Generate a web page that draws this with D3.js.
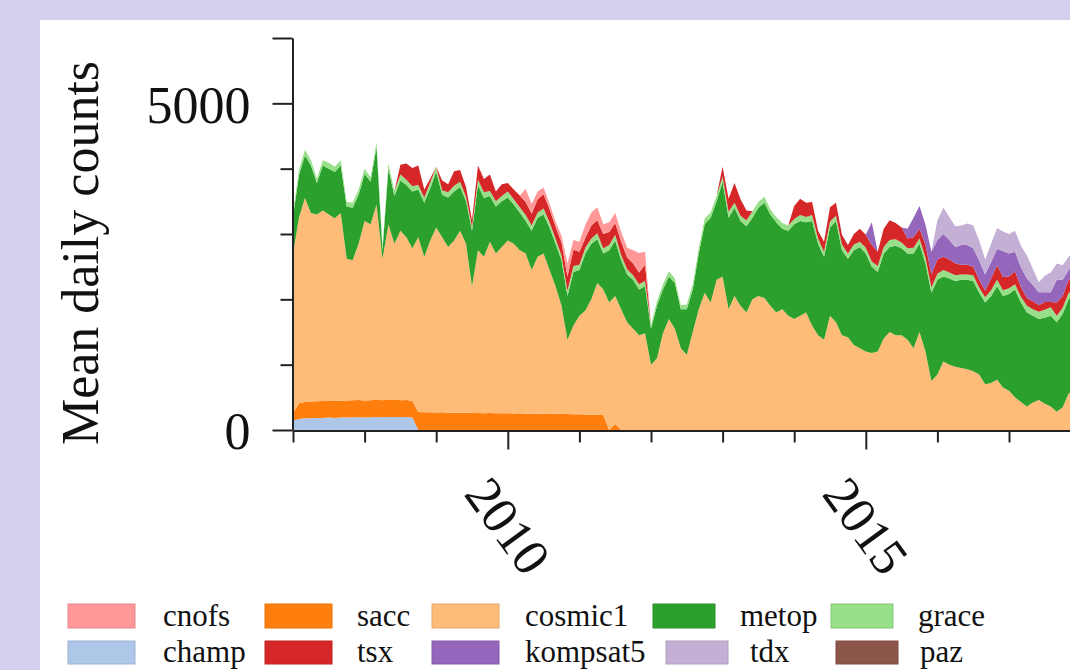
<!DOCTYPE html>
<html><head><meta charset="utf-8">
<script src="https://cdn.jsdelivr.net/npm/d3@7"></script>
<style>
html,body{margin:0;padding:0;background:#d4d0ed;}
svg{display:block;}
text{font-family:"Liberation Serif","Times New Roman",serif;fill:#111;}
</style></head><body>
<svg id="c" width="1070" height="670"></svg>
<script>
// ---------------- DATA (monthly means, Jan 2007 .. Dec 2017) ----------------
const startYear = 2007;
const seriesNames = ["champ","sacc","cosmic1","metop","grace","tsx","cnofs","kompsat5","tdx","paz"];
const seriesColors = ["#aec7e8","#ff7f0e","#ffbb78","#2ca02c","#98df8a","#d62728","#ff9896","#9467bd","#c5b0d5","#8c564b"];
const yTickValues = [0,1000,2000,3000,4000,5000,6000];
const yTickLabels = ["0","","","","","5000",""];
const xTickYears = [2007,2008,2009,2010,2011,2012,2013,2014,2015,2016,2017,2018];
const xLabelYears = [2010,2015];
const yAxisTitle = "Mean daily counts";

const champ = [
140,170,180,180,185,185,190,185,190,190,195,195,
190,195,200,195,200,200,195,200,190,0,0,0,
0,0,0,0,0,0,0,0,0,0,0,0,
0,0,0,0,0,0,0,0,0,0,0,0,
0,0,0,0,0,0,0,0,0,0,0,0,
0,0,0,0,0,0,0,0,0,0,0,0,
0,0,0,0,0,0,0,0,0,0,0,0,
0,0,0,0,0,0,0,0,0,0,0,0,
0,0,0,0,0,0,0,0,0,0,0,0,
0,0,0,0,0,0,0,0,0,0,0,0,
0,0,0,0,0,0,0,0,0,0,0,0];
const sacc = [
120,240,250,255,255,260,255,260,258,262,260,265,
262,260,265,262,268,265,262,260,255,275,272,270,
268,270,265,268,262,265,260,262,258,260,255,258,
255,252,255,250,252,248,250,245,248,244,246,240,
242,238,235,232,228,0,90,0,0,0,0,0,
0,0,0,0,0,0,0,0,0,0,0,0,
0,0,0,0,0,0,0,0,0,0,0,0,
0,0,0,0,0,0,0,0,0,0,0,0,
0,0,0,0,0,0,0,0,0,0,0,0,
0,0,0,0,0,0,0,0,0,0,0,0,
0,0,0,0,0,0,0,0,0,0,0,0];
const cosmic1 = [
2440,2840,3120,2885,2860,2915,2855,2795,2872,2168,2145,2390,
2748,2695,2985,2163,2682,2385,2593,2490,2335,2675,2378,2630,
2832,2680,2535,2632,2788,2585,1940,2488,2392,2620,2445,2542,
2645,2598,2495,2450,2198,2402,2450,2205,1952,1656,1134,1360,
1508,1592,1765,2018,1922,1950,1960,1850,1650,1550,1450,1480,
1000,1100,1480,1700,1550,1250,1150,1500,1850,2100,1950,2300,
2350,1850,2050,1900,1800,2000,2050,2020,1900,1800,1850,1750,
1700,1750,1800,1600,1450,1380,1750,1650,1450,1420,1300,1250,
1200,1180,1200,1400,1500,1450,1450,1380,1250,1500,1200,750,
850,1050,1000,970,950,930,900,850,700,720,770,650,
600,500,430,360,420,460,400,360,280,350,560,600];
const metop = [
560,650,650,730,480,690,700,710,730,800,800,750,
720,650,880,130,850,730,770,800,870,730,830,800,
850,650,760,750,670,650,850,1000,900,700,720,700,
660,600,580,500,600,600,600,650,650,700,670,820,
700,870,850,670,550,800,850,750,730,750,700,720,
550,800,670,650,700,600,700,650,850,1050,1300,1200,
1450,1400,1350,1300,1320,1250,1350,1460,1400,1380,1230,1300,
1450,1450,1380,1600,1400,1270,1350,1550,1300,1200,1450,1550,
1500,1320,1220,1300,1300,1370,1330,1320,1450,1350,1350,1350,
1450,1300,1320,1310,1350,1370,1380,1250,1250,1330,1430,1400,
1480,1650,1520,1440,1330,1240,1320,1390,1370,1430,1440,1450];
const grace = [
60,80,90,80,70,80,90,80,80,70,80,80,
80,70,80,60,80,80,90,80,80,70,80,90,
80,70,80,90,80,70,60,80,90,80,80,80,
90,80,80,90,80,80,90,80,80,70,80,90,
80,90,80,90,80,80,90,80,80,70,80,80,
60,70,80,80,70,60,70,80,80,90,80,90,
80,90,80,80,90,100,90,90,80,80,90,80,
80,90,80,90,80,80,90,80,90,80,90,80,
90,80,90,100,110,100,90,80,90,80,90,80,
90,100,90,90,80,80,90,80,80,90,100,90,
90,80,90,100,100,110,120,130,100,90,100,90];
const tsx = [
0,0,0,0,0,0,0,0,0,0,0,0,
0,0,0,0,0,0,150,250,280,300,120,60,
0,150,120,220,180,150,100,220,200,250,150,180,
130,150,180,200,180,200,220,200,180,200,220,250,
200,150,200,200,220,200,180,200,180,180,180,250,
0,0,0,0,0,0,0,0,0,0,0,0,
150,200,300,250,150,0,0,0,0,0,0,0,
200,250,220,200,120,150,220,200,150,130,160,200,
200,250,220,280,300,250,230,150,160,150,200,200,
220,200,200,180,150,150,130,120,100,180,220,200,
180,200,150,120,120,100,120,80,200,180,200,200];
const cnofs = [
0,0,0,0,0,0,0,0,0,0,0,0,
0,0,0,0,0,0,0,0,0,0,0,0,
0,0,0,0,0,0,0,0,0,0,0,0,
0,0,0,200,150,120,100,80,80,100,200,150,
150,200,200,200,150,150,150,150,150,200,300,200,
0,0,0,0,0,0,0,0,0,0,0,0,
0,0,0,0,0,0,0,0,0,0,0,0,
0,0,0,0,0,0,0,0,0,0,0,0,
0,0,0,0,0,0,0,0,0,0,0,0,
0,0,0,0,0,0,0,0,0,0,0,0,
0,0,0,0,0,0,0,0,0,0,0,0];
const kompsat5 = [
0,0,0,0,0,0,0,0,0,0,0,0,
0,0,0,0,0,0,0,0,0,0,0,0,
0,0,0,0,0,0,0,0,0,0,0,0,
0,0,0,0,0,0,0,0,0,0,0,0,
0,0,0,0,0,0,0,0,0,0,0,0,
0,0,0,0,0,0,0,0,0,0,0,0,
0,0,0,0,0,0,0,0,0,0,0,0,
0,0,0,0,0,0,0,0,0,0,0,0,
0,350,0,0,0,0,0,150,300,350,300,350,
300,350,300,250,300,300,280,300,250,250,250,400,
350,300,300,300,250,200,150,150,350,250,150,200];
const tdx = [
0,0,0,0,0,0,0,0,0,0,0,0,
0,0,0,0,0,0,0,0,0,0,0,0,
0,0,0,0,0,0,0,0,0,0,0,0,
0,0,0,0,0,0,0,0,0,0,0,0,
0,0,0,0,0,0,0,0,0,0,0,0,
0,0,0,0,0,0,0,0,0,0,0,0,
0,0,0,0,0,0,0,0,0,0,0,0,
0,0,0,0,0,0,0,0,0,0,0,0,
0,0,0,0,0,0,0,0,0,0,0,0,
300,400,350,320,300,330,350,300,230,280,320,300,
300,320,330,350,250,150,250,300,250,220,200,220];
const paz = new Array(132).fill(0);

// ---------------- BUILD TABLE ----------------
const seriesData = {champ, sacc, cosmic1, metop, grace, tsx, cnofs, kompsat5, tdx, paz};
const table = champ.map((_, i) => {
  const row = {t: startYear + i / 12};
  seriesNames.forEach(k => row[k] = seriesData[k][i]);
  return row;
});

// ---------------- LAYOUT ----------------
const svg = d3.select("#c");
svg.append("rect").attr("x", 40).attr("y", 20).attr("width", 1100).attr("height", 700).attr("fill", "#ffffff");

const x = d3.scaleLinear().domain([2007, 2018]).range([293, 293 + 11 * 71.6]);
const y = d3.scaleLinear().domain([0, 6000]).range([430, 38]);
const color = d3.scaleOrdinal().domain(seriesNames).range(seriesColors);

const stack = d3.stack().keys(seriesNames);
const layers = stack(table);
const area = d3.area()
  .x(d => x(d.data.t))
  .y0(d => y(d[0]))
  .y1(d => y(d[1]));

svg.append("g").selectAll("path").data(layers).join("path")
  .attr("d", area)
  .attr("fill", d => color(d.key))
  .attr("stroke", "none");

// ---------------- AXES ----------------
const axisColor = "#222";
// Y axis
const yAxis = svg.append("g").attr("transform", "translate(292.5,0)")
  .call(d3.axisLeft(y).tickValues(yTickValues).tickSizeOuter(0)
    .tickFormat((d, i) => yTickLabels[i]));
yAxis.select(".domain").attr("stroke", axisColor).attr("stroke-width", 2);
yAxis.selectAll(".tick line").attr("stroke", axisColor).attr("stroke-width", 2)
  .attr("x2", (d, i) => yTickLabels[i] !== "" || d === 6000 ? -20 : -12);
yAxis.selectAll(".tick text").attr("x", -42).attr("dy", "0.36em")
  .style("font-size", "52px").attr("fill", "#111");

// X axis
const xAxis = svg.append("g").attr("transform", "translate(0,430.5)")
  .call(d3.axisBottom(x).tickValues(xTickYears).tickSizeOuter(0).tickFormat(""));
xAxis.select(".domain").attr("stroke", axisColor).attr("stroke-width", 2);
xAxis.selectAll(".tick line").attr("stroke", axisColor).attr("stroke-width", 2)
  .attr("y2", d => xLabelYears.includes(d) ? 19 : 12);
svg.append("g").selectAll("text").data(xLabelYears).join("text")
  .attr("transform", d => `translate(${x(d)},526) rotate(54)`)
  .attr("text-anchor", "middle").attr("dominant-baseline", "central")
  .style("font-size", "52px").text(d => d);

// Y title
svg.append("text").attr("transform", "translate(98,253) rotate(-90)")
  .attr("text-anchor", "middle").style("font-size", "52px").text(yAxisTitle);

// ---------------- LEGEND ----------------
const legendRows = [
  {keys: ["cnofs","sacc","cosmic1","metop","grace"], sx: [68,265,432,653,831], lx: [163,357,525,740,918], sy: 604, sh: 24, by: 626},
  {keys: ["champ","tsx","kompsat5","tdx","paz"], sx: [68,265,432,666,836], lx: [163,357,525,750,920], sy: 641, sh: 23, by: 662}
];
const lg = svg.append("g");
legendRows.forEach(r => {
  r.keys.forEach((k, i) => {
    const w = i >= 3 ? 62 : 67;
    lg.append("rect").attr("x", r.sx[i]).attr("y", r.sy).attr("width", w).attr("height", r.sh)
      .attr("fill", color(k)).attr("stroke", d3.color(color(k)).darker(0.3)).attr("stroke-width", 1);
    lg.append("text").attr("x", r.lx[i]).attr("y", r.by).style("font-size", "31px").text(k);
  });
});
</script>
</body></html>
